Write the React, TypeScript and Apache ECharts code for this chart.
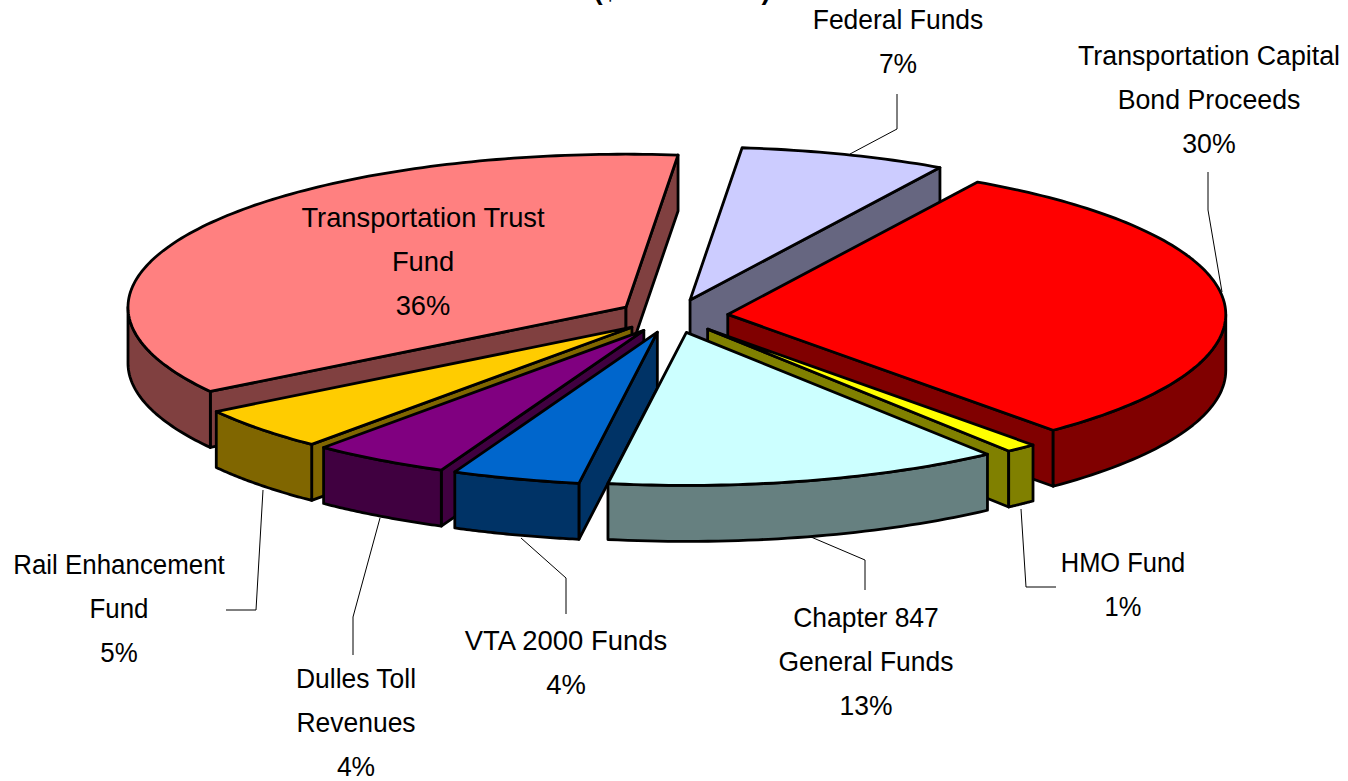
import React, { useEffect, useRef } from "react";
import * as echarts from "echarts";

const categories = [
  "Federal Funds",
  "Transportation Capital Bond Proceeds",
  "HMO Fund",
  "Chapter 847 General Funds",
  "VTA 2000 Funds",
  "Dulles Toll Revenues",
  "Rail Enhancement Fund",
  "Transportation Trust Fund",
];
const values = [6.7, 30.3, 1.0, 12.85, 4.15, 4.45, 4.6, 35.95];
const topColors = ["#CCCCFF", "#FF0000", "#FFFF00", "#CCFFFF", "#0066CC", "#800080", "#FFCC00", "#FF8080"];
const sideColors = ["#666680", "#800000", "#808000", "#668080", "#003366", "#400040", "#806600", "#804040"];
const drawOrder = [7, 0, 1, 6, 5, 4, 2, 3];

const labelLines = [
  ["Federal Funds"],
  ["Transportation Capital", "Bond Proceeds"],
  ["HMO Fund"],
  ["Chapter 847", "General Funds"],
  ["VTA 2000 Funds"],
  ["Dulles Toll", "Revenues"],
  ["Rail Enhancement", "Fund"],
  ["Transportation Trust", "Fund"],
];
const labelCenters = [
  [898, 41],
  [1209, 99],
  [1123, 585],
  [866, 661],
  [566, 662],
  [356, 722],
  [119, 609],
  [423, 261],
];
const labelScales = [0.945, 0.955, 0.91, 0.945, 0.98, 0.945, 0.925, 0.975];
const leaders = [
  [[897, 94], [897, 129], [850, 154]],
  [[1208, 172], [1208, 210], [1222, 292]],
  [[1021, 509], [1026, 587], [1056, 587]],
  [[811, 537], [865, 560], [865, 590]],
  [[521, 538], [566, 578], [566, 614]],
  [[380, 518], [353, 617], [353, 655]],
  [[263, 490], [256, 610], [226, 610]],
];

const startAngle = 6;
const cx = 673;
const cy = 316;
const rx = 498;
const ry = 153;
const explode = 55;
const depth = 56;
const lineW = 2.8;

const rad = (d: number) => (d * Math.PI) / 180;
const total = values.reduce((a, b) => a + b, 0);
const starts: number[] = [];
values.reduce((acc, v, i) => {
  starts[i] = acc;
  return acc + (v / total) * 360;
}, startAngle);

function renderItem(_params: any, api: any) {
  const idx = api.value(0);
  const a0 = starts[idx];
  const a1 = a0 + (values[idx] / total) * 360;
  const mid = (a0 + a1) / 2;
  const ox = cx + explode * Math.sin(rad(mid));
  const oy = cy - explode * (ry / rx) * Math.cos(rad(mid));
  const pt = (t: number, r = 1, dz = 0): number[] => [
    ox + rx * r * Math.sin(rad(t)),
    oy - ry * r * Math.cos(rad(t)) + dz,
  ];
  const style = (fill: string) => ({ fill, stroke: "#000", lineWidth: lineW, lineJoin: "round" });
  const children: any[] = [];
  const poly = (points: number[][], fill: string) =>
    children.push({ type: "polygon", shape: { points }, style: style(fill) });

  const side = sideColors[idx];
  if (Math.sin(rad(a0)) < 0) poly([pt(a0, 0), pt(a0), pt(a0, 1, depth), pt(a0, 0, depth)], side);
  if (Math.sin(rad(a1)) > 0) poly([pt(a1, 0), pt(a1), pt(a1, 1, depth), pt(a1, 0, depth)], side);
  const w0 = Math.max(a0, 90);
  const w1 = Math.min(a1, 270);
  if (w1 > w0) {
    const upper: number[][] = [];
    const lower: number[][] = [];
    for (let t = w0; t <= w1 + 1e-6; t += (w1 - w0) / 40) {
      upper.push(pt(t));
      lower.unshift(pt(t, 1, depth));
    }
    poly(upper.concat(lower), side);
  }
  const topPts: number[][] = [pt(a0, 0)];
  const n = Math.max(6, Math.round(a1 - a0));
  for (let i = 0; i <= n; i++) topPts.push(pt(a0 + ((a1 - a0) * i) / n));
  poly(topPts, topColors[idx]);
  return { type: "group", children };
}

const texts: any[] = labelLines.map((lines, i) => ({
  type: "text",
  x: labelCenters[i][0],
  y: labelCenters[i][1],
  scaleX: labelScales[i],
  style: {
    text: [...lines, `${Math.round(values[i])}%`].join("\n"),
    fontFamily: "Liberation Sans",
    fontSize: 28,
    lineHeight: 44,
    fill: "#000",
    align: "center",
    verticalAlign: "middle",
  },
  z: 10,
}));

const leaderLines: any[] = leaders.map((points) => ({
  type: "polyline",
  shape: { points },
  style: { stroke: "#000", lineWidth: 1, fill: "none" },
  z: 9,
}));

const titleText = {
  type: "text",
  x: 682,
  y: -25,
  style: {
    text: "($ in millions)",
    fontFamily: "Liberation Sans",
    fontWeight: "bold",
    fontSize: 27.5,
    fill: "#000",
    align: "center",
    verticalAlign: "top",
  },
  z: 10,
};

export default function App() {
  const ref = useRef<HTMLDivElement>(null);
  useEffect(() => {
    document.body.style.margin = "0";
    const chart = echarts.init(ref.current!, undefined, { renderer: "svg" });
    chart.setOption({
      animation: false,
      backgroundColor: "#fff",
      series: [
        {
          type: "custom",
          coordinateSystem: "none",
          renderItem,
          data: drawOrder.map((i) => ({ name: categories[i], value: [i, values[i]] })),
          silent: true,
        },
      ],
      graphic: [titleText, ...leaderLines, ...texts],
    });
    return () => chart.dispose();
  }, []);
  return <div ref={ref} style={{ width: 1348, height: 781 }} />;
}
